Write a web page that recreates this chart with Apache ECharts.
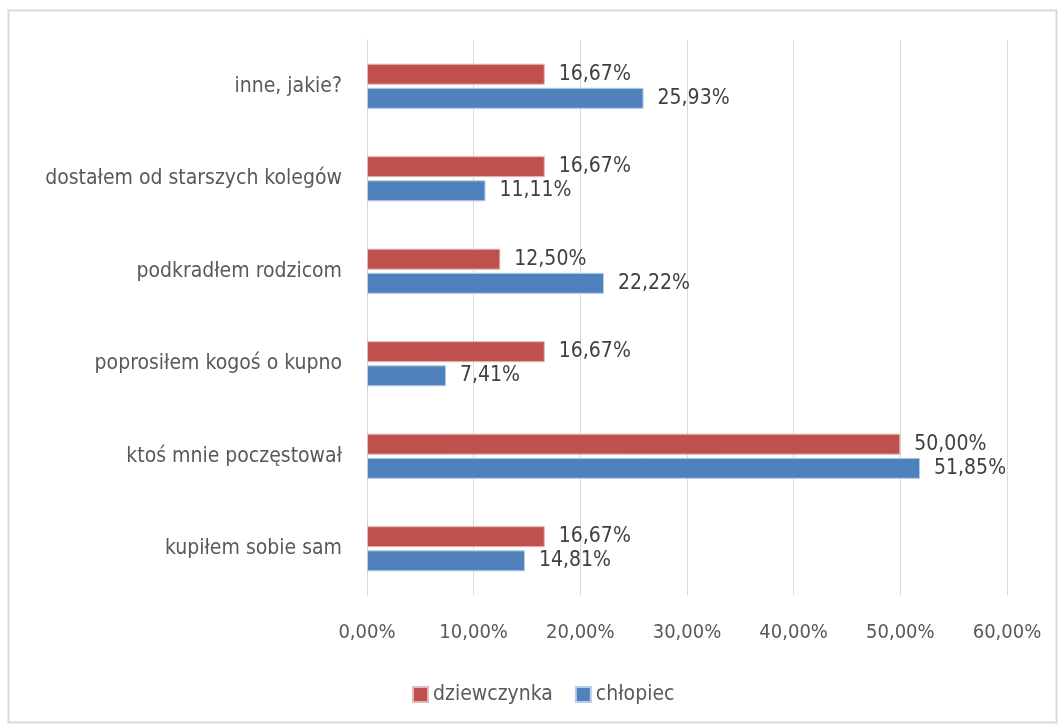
<!DOCTYPE html>
<html>
<head>
<meta charset="utf-8">
<script src="https://cdn.jsdelivr.net/npm/echarts@6/dist/echarts.min.js"></script>
<style>
  html, body { margin: 0; padding: 0; background: #fff; }
  #chart { width: 1060px; height: 724px; }
</style>
</head>
<body>
<div id="chart"></div>
<script>
// kategorie od dołu do góry
const categories = [
  "kupiłem sobie sam",
  "ktoś mnie poczęstował",
  "poprosiłem kogoś o kupno",
  "podkradłem rodzicom",
  "dostałem od starszych kolegów",
  "inne, jakie?"
];
const dziewczynka = [16.67, 50.00, 16.67, 12.50, 16.67, 16.67];
const chlopiec = [14.81, 51.85, 7.41, 22.22, 11.11, 25.93];
const xTicks = [0, 10, 20, 30, 40, 50, 60];

const FONT = "'DejaVu Sans Condensed', 'Liberation Sans Narrow', 'Liberation Sans', sans-serif";
const pct = v => v.toFixed(2).replace(".", ",") + "%";

const chart = echarts.init(document.getElementById("chart"));
chart.setOption({
  animation: false,
  textStyle: { fontFamily: FONT },
  graphic: [{
    type: "rect",
    shape: { x: 8.5, y: 10.5, width: 1048, height: 712 },
    style: { fill: "none", stroke: "#d9d9d9", lineWidth: 2 },
    silent: true
  }],
  grid: { left: 367, right: 53, top: 40, bottom: 129 },
  legend: {
    bottom: 14,
    left: 407,
    itemWidth: 15,
    itemHeight: 15,
    itemGap: 22,
    icon: "rect",
    textStyle: { color: "#595959", fontSize: 21, fontFamily: FONT },
    data: ["dziewczynka", "chłopiec"]
  },
  xAxis: {
    type: "value",
    min: xTicks[0],
    max: xTicks[xTicks.length - 1],
    interval: 10,
    axisLine: { show: false },
    axisTick: { show: false },
    splitLine: { lineStyle: { color: "#d9d9d9", width: 1 } },
    axisLabel: {
      color: "#595959",
      fontSize: 20,
      margin: 28,
      formatter: v => pct(v)
    }
  },
  yAxis: {
    type: "category",
    data: categories,
    axisLine: { lineStyle: { color: "#d9d9d9" } },
    axisTick: { show: false },
    axisLabel: { color: "#595959", fontSize: 21, margin: 25 }
  },
  series: [
    {
      name: "dziewczynka",
      type: "bar",
      data: dziewczynka,
      barWidth: 21,
      barGap: "15%",
      itemStyle: { color: "#c0504d", borderColor: "#e6b9b8", borderWidth: 1 },
      label: {
        show: true,
        position: "right",
        distance: 14,
        color: "#404040",
        fontSize: 21,
        formatter: p => pct(p.value)
      }
    },
    {
      name: "chłopiec",
      type: "bar",
      data: chlopiec,
      barWidth: 21,
      itemStyle: { color: "#4f81bd", borderColor: "#b9cde5", borderWidth: 1 },
      label: {
        show: true,
        position: "right",
        distance: 14,
        color: "#404040",
        fontSize: 21,
        formatter: p => pct(p.value)
      }
    }
  ]
});
</script>
</body>
</html>
